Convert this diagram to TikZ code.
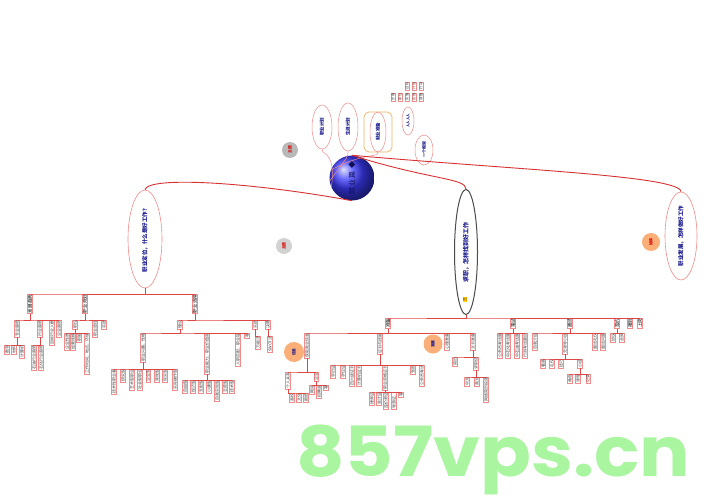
\documentclass[tikz,border=0pt]{standalone}
\usepackage{fontspec}
\setmainfont{Noto Sans CJK SC}
\newfontfamily\wmfont{Poppins}
\usetikzlibrary{shapes.geometric}
\definecolor{conn}{RGB}{222,70,70}
\definecolor{leafb}{RGB}{240,140,140}
\definecolor{navy}{RGB}{25,25,140}
\definecolor{wm}{RGB}{170,246,160}
\definecolor{orfill}{RGB}{250,175,120}
\newcommand\grp[3]{\draw[lk] (#1.west) |- (#2.east) -- (#3.east);}
\begin{document}
\begin{tikzpicture}[x=1pt,y=-1pt,
  leaf/.style={draw=leafb, line width=0.4pt, fill=white, rotate=90, anchor=east, inner sep=0.5pt,
    font=\fontsize{4}{4}\selectfont, text=black!75},
  head/.style={leaf, font=\fontsize{4.6}{4.6}\selectfont, text=black, line width=0.5pt},
  tiny/.style={leaf, font=\fontsize{3.3}{3.3}\selectfont},
  lk/.style={draw=conn, line width=0.5pt},
  pinkl/.style={draw=leafb, line width=0.5pt},
  mainc/.style={draw={rgb,255:red,215;green,50;blue,50}, line width=0.9pt},
  big/.style={ellipse, draw=leafb, line width=0.6pt, rotate=90, text=navy, inner sep=0pt,
    font=\fontsize{5.5}{5.5}\selectfont\bfseries},
  small/.style={ellipse, draw=leafb, line width=0.5pt, rotate=90, text=navy, inner sep=0pt,
    font=\fontsize{4.5}{4.5}\selectfont\bfseries},
  dot/.style={circle, rotate=90, inner sep=0pt, font=\fontsize{3.8}{3.8}\selectfont\bfseries},
]
\fill[white] (0,0) rectangle (707,500);
\useasboundingbox (0,0) rectangle (707,500);

% ---- centre and top ----
\node[circle, minimum size=45pt, inner sep=0pt, shading=ball, ball color={rgb,255:red,60;green,60;blue,255},
  rotate=90, text=navy!60!black, font=\fontsize{7}{7}\selectfont] (c) at (352,178) {就\,业\,篇\, ◆};
\node[small, minimum width=44pt, minimum height=20pt] (t1) at (322,127) {职业计划};
\node[small, minimum width=48pt, minimum height=20pt] (t2) at (348,127) {生涯计划};
\draw[draw={rgb,255:red,240;green,180;blue,100}, line width=0.7pt, rounded corners=5pt] (364,112) rectangle (392,152);
\node[small, minimum width=40pt, minimum height=16pt] (t3) at (378,132) {就业准备};
\node[small, minimum width=28pt, minimum height=12pt, font=\fontsize{3.5}{3.5}\selectfont\bfseries] (t4) at (408,121) {人人人人};
\node[small, minimum width=30pt, minimum height=18pt, font=\fontsize{4}{4}\selectfont\bfseries] (t5) at (424,150) {一个框架};
\node[dot, minimum size=16pt, fill=gray!55, text=red!85!black] (g1) at (290,150) {主题};
\node[dot, minimum size=16pt, fill=gray!35, text=red!85!black] (g2) at (284,246) {主题};

\draw[pinkl] (c.115) .. controls (336,150) and (322,156) .. (t1.west);
\draw[pinkl] (c.98) .. controls (350,154) and (348,156) .. (t2.west);
\draw[pinkl] (c.70) .. controls (364,152) and (378,158) .. (t3.west);

% top cluster
\node[tiny] (k1) at (407,82) {目标};
\node[tiny] (k2) at (414,82) {计划};
\node[tiny] (k3) at (421,82) {行动};
\node[tiny] (k4) at (393,93) {步骤};
\node[tiny] (k5) at (400,93) {职位};
\node[tiny] (k6) at (407,93) {实施};
\node[tiny] (k7) at (414,93) {反馈};
\node[tiny] (k8) at (421,93) {调整};

% ---- main branches ----
\node[big, minimum width=98pt, minimum height=34pt] (L) at (145,239) {职业定位，什么是好工作？};
\node[big, minimum width=125pt, minimum height=23pt, draw=gray!60!black, line width=1pt,
  font=\fontsize{6}{6}\selectfont\bfseries] (M) at (466,252) {求职，怎样找到好工作};
\node[big, minimum width=88pt, minimum height=32pt] (R) at (681,236) {职业发展，怎样做好工作};
\node[dot, minimum size=18pt, fill=orfill, text=red!85!black] (o1) at (651,242) {协调};
\node[rotate=90, inner sep=0.5pt, fill=yellow!70!orange, text=orange!60!black,
  font=\fontsize{4}{4}\selectfont\bfseries] (y1) at (465,299) {三};

\draw[mainc] (c.west) .. controls (250,182) and (148,176) .. (L.east);
\draw[mainc] (c.east) .. controls (430,180) and (466,178) .. (M.east);
\draw[mainc] (c.east) .. controls (520,170) and (680,176) .. (R.east);

% ---- left subtree ----
\node[head] (h1) at (30,294) {发展趋势};
\node[head] (h2) at (85,294) {职业规划};
\node[head] (h3) at (195,294) {职业选择};
\grp{L}{h1}{h3}

\node[leaf] (a1) at (17,320) {专业趋势};
\node[leaf] (a2) at (40,320) {行业趋势};
\node[leaf] (a3) at (52,320) {目标行业人群};
\node[leaf] (a4) at (59,320) {企业趋势};
\grp{h1}{a1}{a4}
\node[leaf] (a11) at (7,345) {数学};
\node[leaf] (a12) at (14,345) {材料};
\node[leaf] (a13) at (22,345) {计算机};
\grp{a1}{a11}{a13}
\node[leaf] (a21) at (34,345) {石油行业趋势};
\node[leaf] (a22) at (41,345) {石化行业趋势};
\grp{a2}{a21}{a22}

\node[leaf] (b1) at (75,320) {职位};
\node[leaf] (b2) at (95,320) {职业途径};
\node[leaf] (b3) at (104,320) {实践};
\grp{h2}{b1}{b3}
\node[leaf] (b11) at (67,333) {企业性质};
\node[leaf] (b12) at (73,333) {经营规模};
\node[leaf] (b13) at (79,333) {职能};
\node[leaf] (b14) at (87,333) {工作时间、地点、环境};
\grp{b1}{b11}{b14}

\node[leaf] (c1) at (180,320) {理论};
\node[leaf] (c2) at (255,320) {实践};
\node[leaf] (c3) at (268,320) {决策};
\grp{h3}{c1}{c3}
\node[leaf] (d1) at (143,333) {职业兴趣、性格};
\node[leaf] (d2) at (207,333) {职业能力、职业价值观};
\node[leaf] (d3) at (238,333) {人职匹配、职业锚};
\node[leaf] (d4) at (247,333) {等};
\grp{c1}{d1}{d4}
\node[leaf] (e1) at (258,336) {万能法};
\grp{c2}{e1}{e1}
\node[leaf] (e2) at (270,336) {SWOT法};
\grp{c3}{e2}{e2}

\node[leaf] (f1) at (114,369) {技术性职业者};
\node[leaf] (f2) at (123,369) {研究型};
\node[leaf] (f3) at (132,369) {艺术型职业};
\node[leaf] (f4) at (140,369) {社会型职业};
\node[leaf] (f5) at (148,369) {企业型};
\node[leaf] (f6) at (157,369) {常规型};
\node[leaf] (f7) at (165,369) {现实型};
\node[leaf] (f8) at (175,369) {实际操作型};
\grp{d1}{f1}{f8}
\node[leaf] (j1) at (185,380) {自由型};
\node[leaf] (j2) at (193,380) {经济型};
\node[leaf] (j3) at (201,380) {支配型};
\node[leaf] (j4) at (209,380) {小康型};
\node[leaf] (j5) at (217,380) {自我实现型};
\node[leaf] (j6) at (225,380) {志愿型};
\node[leaf] (j7) at (232,380) {技术型};
\grp{d2}{j1}{j7}

% ---- middle subtree ----
\node[head] (m1) at (388,318) {准备};
\node[head] (m2) at (513,318) {笔试};
\node[head] (m3) at (570,318) {面试};
\node[head] (m4) at (617,318) {签约};
\node[head] (m5) at (630,318) {报到};
\node[head] (m6) at (640,318) {上岗};
\grp{M}{m1}{m6}

\node[leaf] (p1) at (307,333) {获取就业信息};
\node[leaf] (p2) at (380,333) {证书与技能};
\node[leaf] (p3) at (447,333) {心理准备};
\node[leaf] (p4) at (473,333) {文书准备};
\grp{m1}{p1}{p4}
\node[dot, minimum size=20pt, fill=orfill, text=navy] (o3) at (294,352) {信息};
\node[dot, minimum size=19pt, fill=orfill, text=navy] (o2) at (433,344) {发展};

\node[leaf] (p11) at (288,372) {个人关系};
\node[leaf] (p12) at (316,372) {企业};
\grp{p1}{p11}{p12}
\node[leaf] (p111) at (292,393) {高校};
\node[leaf] (p112) at (299,393) {文化};
\node[leaf] (p113) at (306,393) {报纸};
\grp{p11}{p111}{p113}
\node[leaf] (p121) at (312,385) {网站};
\node[leaf] (p122) at (319,385) {招聘会};
\node[leaf] (p123) at (326,385) {等};
\grp{p12}{p121}{p123}

\node[leaf] (q1) at (333,365) {学历证};
\node[leaf] (q2) at (343,365) {学位证};
\node[leaf] (q3) at (352,365) {四六级证书};
\node[leaf] (q4) at (359,365) {计算机证书};
\node[leaf] (q5) at (385,365) {职业资格证书};
\node[leaf] (q6) at (413,365) {驾照};
\node[leaf] (q7) at (422,365) {公务员考试};
\grp{p2}{q1}{q7}
\node[leaf] (r1) at (372,392) {律师证};
\node[leaf] (r2) at (379,392) {会计证};
\node[leaf] (r3) at (386,392) {造价师证};
\node[leaf] (r4) at (394,392) {导游证、};
\node[leaf] (r5) at (401,392) {等};
\grp{q5}{r1}{r5}

\node[leaf] (s1) at (455,357) {简历};
\node[leaf] (s2) at (476,357) {求职信};
\grp{p4}{s1}{s2}
\node[leaf] (s21) at (467,377) {中文};
\node[leaf] (s22) at (477,377) {英文};
\node[leaf] (s23) at (486,377) {网络简历投递};
\grp{s2}{s21}{s23}

\node[leaf] (u1) at (500,333) {公务员考试题};
\node[leaf] (u2) at (508,333) {中石化考试题};
\node[leaf] (u3) at (517,333) {中石油考试题};
\node[leaf] (u4) at (525,333) {行测考试题目};
\grp{m2}{u1}{u4}

\node[leaf] (v1) at (535,333) {自我介绍};
\node[leaf] (v2) at (565,333) {无领导小组};
\node[leaf] (v3) at (595,333) {面试礼仪};
\node[leaf] (v4) at (603,333) {面试问题};
\grp{m3}{v1}{v4}
\node[leaf] (v21) at (543,359) {着装};
\node[leaf] (v22) at (552,359) {礼仪};
\node[leaf] (v23) at (561,359) {技巧};
\node[leaf] (v24) at (580,359) {小组};
\grp{v2}{v21}{v24}
\node[leaf] (v241) at (570,374) {角色};
\node[leaf] (v242) at (578,374) {领导};
\node[leaf] (v243) at (588,374) {记录};
\grp{v24}{v241}{v243}

\node[leaf] (w1) at (613,333) {协议};
\node[leaf] (w2) at (622,333) {合同};
\grp{m4}{w1}{w2}

% ---- watermark ----
\node[anchor=north west, inner sep=0pt, text=wm] (wmk) at (296,425)
  {\resizebox*{394pt}{70pt}{\wmfont\bfseries 857vps.cn}};
\end{tikzpicture}
\end{document}
